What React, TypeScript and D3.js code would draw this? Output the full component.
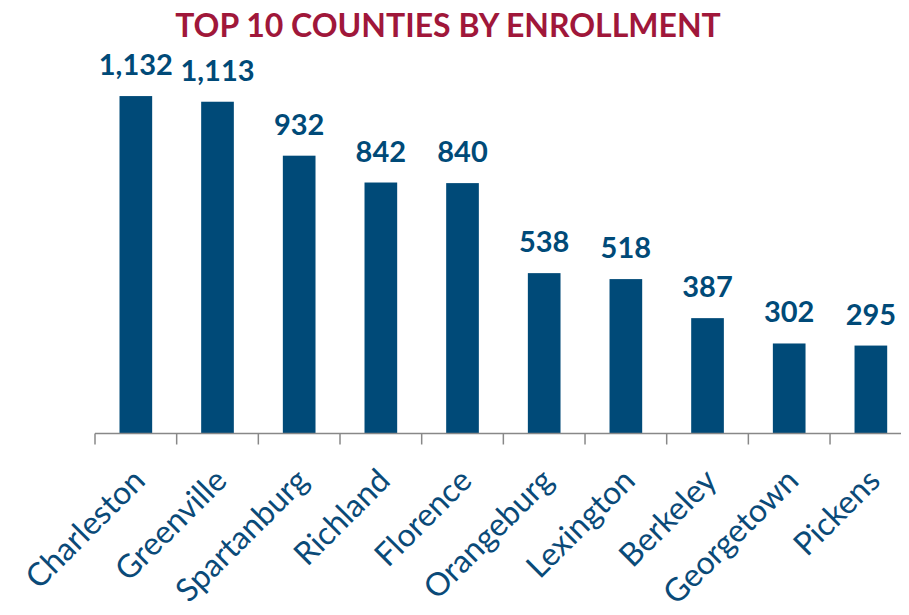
import React from "react";
import * as d3 from "d3";

const categories = ["Charleston", "Greenville", "Spartanburg", "Richland", "Florence", "Orangeburg", "Lexington", "Berkeley", "Georgetown", "Pickens"];
const values = [1132, 1113, 932, 842, 840, 538, 518, 387, 302, 295];
const title = "TOP 10 COUNTIES BY ENROLLMENT";

const W = 909;
const H = 615;
const FONT = "Lato, 'Open Sans', sans-serif";

export default function App() {
  const x0 = 95;
  const step = 81.67;
  const axisY = 433.5;
  const x = d3.scaleBand<string>().domain(categories).range([x0, x0 + step * categories.length]).paddingInner(0.6).paddingOuter(0.3);
  const y = d3.scaleLinear().domain([0, 1200]).range([axisY, 75.8]);
  const fmt = d3.format(",");
  const ticks = d3.range(categories.length).map((i) => x0 + i * step);
  return (
    <div style={{ margin: -8 }}>
      <svg width={W} height={H} style={{ display: "block", background: "#fff" }}>
        <text x={448} y={37} textAnchor="middle" fontFamily={FONT} fontWeight={700} fontSize={32} fill="#a0173a">{title}</text>
        {categories.map((c, i) => (
          <g key={c}>
            <rect x={x(c)!} y={y(values[i])} width={x.bandwidth()} height={axisY - y(values[i])} fill="#004a78" />
            <text x={x(c)! + x.bandwidth() / 2} y={y(values[i]) - 21} textAnchor="middle" fontFamily={FONT} fontWeight={700} fontSize={29} fill="#004a78">{fmt(values[i])}</text>
            <text transform={`translate(${x(c)! + x.bandwidth() / 2 - 7},${axisY + 31}) rotate(-45)`} textAnchor="end" dominantBaseline="hanging" fontFamily={FONT} fontSize={32} fill="#0a4a78">{c}</text>
          </g>
        ))}
        <line x1={x0} x2={W} y1={axisY} y2={axisY} stroke="#888" strokeWidth={1.5} />
        {ticks.map((t, i) => (
          <line key={i} x1={t} x2={t} y1={axisY} y2={axisY + 11} stroke="#888" strokeWidth={1.5} />
        ))}
      </svg>
    </div>
  );
}
